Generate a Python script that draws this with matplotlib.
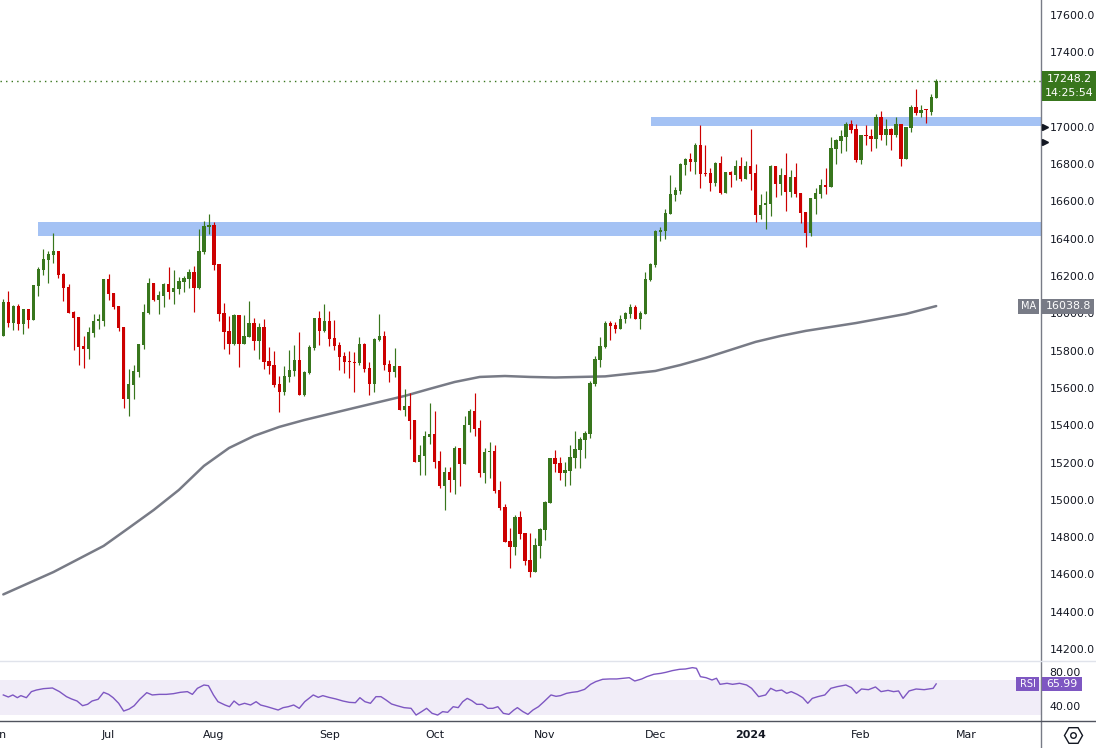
import numpy as np
import pandas as pd
import matplotlib
matplotlib.use('Agg')
import matplotlib.pyplot as plt
from matplotlib.patches import Rectangle
from matplotlib.lines import Line2D
from matplotlib.transforms import IdentityTransform, blended_transform_factory

# daily candles, 2 Jun 2023 .. 22 Feb 2024
opens = [15881, 16059, 15950, 16041, 15945, 16024, 15966, 16149, 16234, 16288,
         16315, 16335, 16211, 16142, 16008, 15981, 15825, 15811, 15897, 15961,
         15961, 16184, 16109, 16040, 15927, 15543, 15618, 15688, 15832, 16004,
         16163, 16072, 16095, 16158, 16117, 16133, 16170, 16186, 16222, 16138,
         16331, 16463, 16474, 16265, 16002, 15906, 15838, 15991, 15838, 15875,
         15949, 15854, 15927, 15745, 15723, 15622, 15580, 15661, 15693, 15750,
         15564, 15681, 15816, 15975, 15907, 15959, 15868, 15831, 15772, 15745,
         15739, 15734, 15836, 15707, 15623, 15857, 15879, 15729, 15686, 15718,
         15484, 15504, 15428, 15205, 15237, 15337, 15353, 15209, 15076, 15150,
         15109, 15278, 15194, 15402, 15475, 15386, 15146, 15257, 15262, 15053,
         14962, 14782, 14749, 14910, 14823, 14678, 14615, 14755, 14841, 14985,
         15225, 15198, 15146, 15157, 15225, 15268, 15321, 15353, 15621, 15752,
         15820, 15948, 15938, 15916, 15967, 15997, 16034, 15967, 15997, 16181,
         16261, 16438, 16444, 16533, 16635, 16656, 16796, 16828, 16812, 16903,
         16753, 16753, 16699, 16806, 16646, 16758, 16742, 16790, 16721, 16790,
         16753, 16529, 16581, 16588, 16790, 16696, 16742, 16648, 16731, 16646,
         16544, 16433, 16615, 16642, 16689, 16680, 16882, 16924, 16946, 17016,
         16989, 16823, 16957, 16951, 16935, 17053, 16957, 16989, 16957, 17016,
         16828, 16994, 17107, 17075, 17092, 17080, 17155]
highs = [16077, 16120, 16045, 16050, 16024, 16024, 16152, 16251, 16345, 16335,
         16431, 16335, 16215, 16156, 16011, 15981, 15879, 15927, 15997, 15998,
         16184, 16211, 16109, 16040, 15927, 15702, 15723, 15836, 16050, 16190,
         16163, 16120, 16161, 16249, 16233, 16195, 16202, 16238, 16254, 16453,
         16495, 16533, 16490, 16265, 16056, 15986, 15997, 15991, 15991, 16067,
         15975, 15949, 15970, 15820, 15798, 15664, 15718, 15804, 15831, 15900,
         15691, 15831, 15975, 16013, 16050, 16013, 15965, 15847, 15793, 15798,
         15793, 15873, 15841, 15739, 15868, 15997, 15906, 15750, 15814, 15718,
         15595, 15573, 15428, 15294, 15370, 15520, 15477, 15262, 15176, 15176,
         15289, 15278, 15450, 15487, 15573, 15428, 15278, 15311, 15294, 15101,
         14978, 14851, 14921, 14942, 14823, 14823, 14798, 14851, 14994, 15225,
         15268, 15230, 15203, 15294, 15370, 15337, 15370, 15638, 15772, 15873,
         15959, 15959, 15954, 15991, 16009, 16051, 16043, 16013, 16222, 16270,
         16447, 16463, 16560, 16742, 16678, 16806, 16833, 16860, 16914, 17010,
         16903, 16780, 16812, 16844, 16758, 16764, 16822, 16839, 16817, 16989,
         16801, 16640, 16656, 16796, 16790, 16780, 16860, 16769, 16807, 16646,
         16544, 16619, 16672, 16721, 16780, 16946, 16935, 16983, 17026, 17037,
         17016, 16957, 17010, 16989, 17069, 17085, 17042, 16994, 17053, 17016,
         17000, 17117, 17203, 17117, 17096, 17176, 17257]
lows = [15881, 15929, 15911, 15911, 15891, 15924, 15966, 16095, 16206, 16163,
        16270, 16192, 16067, 16004, 15806, 15725, 15709, 15757, 15875, 15918,
        15934, 16072, 16024, 15907, 15495, 15452, 15543, 15661, 15811, 15999,
        16067, 15997, 16036, 16079, 16052, 16106, 16117, 16138, 16008, 16133,
        16320, 16426, 16233, 15961, 15811, 15784, 15832, 15714, 15838, 15875,
        15806, 15757, 15704, 15677, 15607, 15473, 15564, 15634, 15666, 15564,
        15559, 15677, 15802, 15831, 15902, 15827, 15806, 15698, 15682, 15655,
        15580, 15723, 15688, 15564, 15580, 15852, 15697, 15634, 15659, 15484,
        15452, 15328, 15205, 15135, 15135, 15302, 15173, 15066, 14948, 15044,
        15034, 15076, 15194, 15366, 15345, 15125, 15093, 15119, 15039, 14948,
        14776, 14632, 14703, 14792, 14653, 14589, 14615, 14690, 14787, 14985,
        15151, 15109, 15076, 15082, 15173, 15173, 15227, 15332, 15611, 15714,
        15814, 15857, 15895, 15916, 15949, 15976, 15967, 15918, 15997, 16176,
        16251, 16390, 16401, 16533, 16603, 16640, 16742, 16764, 16747, 16672,
        16737, 16656, 16683, 16640, 16646, 16678, 16715, 16710, 16721, 16662,
        16492, 16508, 16454, 16524, 16624, 16637, 16551, 16626, 16626, 16487,
        16358, 16417, 16530, 16621, 16642, 16680, 16801, 16860, 16871, 16967,
        16812, 16801, 16903, 16871, 16887, 16930, 16903, 16876, 16946, 16790,
        16828, 16973, 17064, 17053, 17021, 17064, 17155]
closes = [16059, 15950, 16041, 15945, 16024, 15966, 16152, 16238, 16292, 16319,
          16335, 16206, 16138, 16004, 15977, 15822, 15811, 15900, 15959, 15965,
          16184, 16104, 16036, 15924, 15543, 15622, 15691, 15836, 16008, 16163,
          16072, 16099, 16158, 16117, 16136, 16174, 16190, 16222, 16138, 16335,
          16469, 16474, 16260, 15999, 15902, 15838, 15991, 15838, 15879, 15949,
          15854, 15927, 15741, 15720, 15618, 15580, 15664, 15697, 15750, 15564,
          15686, 15820, 15975, 15907, 15959, 15865, 15827, 15768, 15741, 15739,
          15734, 15836, 15704, 15623, 15863, 15879, 15723, 15686, 15718, 15484,
          15504, 15425, 15205, 15241, 15343, 15353, 15205, 15076, 15150, 15109,
          15278, 15194, 15402, 15475, 15382, 15146, 15257, 15262, 15050, 14959,
          14776, 14749, 14910, 14819, 14674, 14615, 14760, 14846, 14989, 15225,
          15194, 15146, 15160, 15230, 15273, 15327, 15359, 15627, 15755, 15825,
          15948, 15932, 15916, 15970, 16002, 16034, 15967, 16002, 16185, 16265,
          16442, 16447, 16538, 16640, 16662, 16801, 16828, 16812, 16903, 16747,
          16746, 16699, 16806, 16646, 16758, 16742, 16790, 16721, 16790, 16747,
          16529, 16581, 16592, 16790, 16694, 16742, 16648, 16731, 16642, 16538,
          16433, 16619, 16646, 16689, 16680, 16887, 16930, 16951, 17016, 16983,
          16823, 16957, 16951, 16935, 17053, 16957, 16989, 16957, 17016, 16828,
          17000, 17107, 17075, 17091, 17089, 17160, 17248.2]

# 200-day moving average, sampled at candle numbers
ma_idx = [0, 10, 20, 25, 30, 35, 40, 45, 50, 55, 60, 70, 80, 85, 90, 95, 100, 105,
          110, 120, 130, 135, 140, 145, 150, 155, 160, 170, 180, 186]
ma_vals = [14493, 14613, 14753, 14849, 14946, 15053, 15182, 15278, 15343, 15391,
           15428, 15493, 15557, 15595, 15632, 15659, 15664, 15659, 15656, 15662,
           15691, 15723, 15761, 15804, 15847, 15879, 15906, 15948, 15997, 16039]

# RSI(14), sampled at candle numbers
rsi_idx = [0.0, 1.0, 1.9, 2.8, 3.5, 4.6, 5.6, 6.6, 8.0, 9.8, 11.2, 12.6, 13.6, 14.7, 15.8,
           16.8, 17.7, 18.9, 20.0, 21.0, 21.9, 23.0, 24.0, 25.1, 26.1, 27.2, 28.6, 29.7,
           31.1, 32.5, 33.9, 35.3, 36.7, 37.7, 38.7, 40.0, 40.9, 41.9, 42.8, 44.2, 45.1,
           46.0, 47.0, 48.1, 49.3, 50.4, 51.3, 52.6, 53.7, 54.8, 55.8, 56.8, 57.9, 59.0,
           60.1, 61.8, 62.8, 63.7, 64.9, 66.3, 67.7, 69.0, 70.2, 71.1, 72.1, 73.2, 74.3,
           75.3, 76.3, 77.4, 78.5, 79.9, 81.3, 82.3, 83.4, 84.4, 85.5, 86.6, 87.6, 88.6,
           89.7, 90.7, 91.6, 92.5, 93.4, 94.4, 95.5, 96.6, 97.6, 98.6, 99.7, 100.8, 101.8,
           102.5, 103.6, 104.6, 105.6, 106.7, 107.8, 109.2, 110.2, 111.1, 112.3, 113.4,
           114.5, 115.9, 117.1, 118.1, 119.5, 120.9, 122.3, 123.7, 124.8, 125.9, 127.3,
           128.3, 129.7, 131.1, 132.1, 133.4, 134.8, 136.0, 137.4, 138.2, 139.0, 140.1,
           141.3, 142.2, 142.9, 144.3, 145.4, 146.8, 148.2, 149.2, 150.6, 152.0, 153.0,
           154.1, 155.2, 156.2, 157.1, 158.3, 159.4, 160.4, 161.3, 162.4, 163.8, 165.0,
           166.3, 168.0, 169.1, 170.1, 171.1, 172.5, 173.9, 175.0, 176.4, 177.5, 178.5,
           179.4, 180.6, 182.0, 183.6, 185.4, 186.0]
rsi_vals = [53.0, 50.6, 53.0, 49.8, 52.2, 49.8, 56.9, 58.8, 60.4, 61.2, 56.9, 51.0, 48.3,
            45.9, 40.4, 42.0, 45.9, 47.9, 56.1, 53.7, 49.8, 43.2, 34.1, 36.5, 40.4, 47.9,
            55.7, 53.0, 53.7, 53.7, 54.5, 56.1, 56.9, 53.7, 60.8, 64.7, 63.9, 53.0, 45.1,
            41.2, 39.2, 45.9, 41.2, 43.2, 41.2, 45.1, 41.2, 39.2, 37.3, 35.3, 38.1, 39.2,
            41.2, 37.3, 45.1, 53.0, 50.2, 52.2, 50.2, 48.3, 45.9, 44.3, 43.9, 49.8, 45.1,
            43.2, 51.0, 51.0, 47.1, 42.4, 40.4, 38.1, 37.3, 29.4, 33.4, 37.3, 31.4, 29.4,
            33.4, 32.6, 39.2, 38.1, 45.1, 49.0, 46.3, 42.0, 42.0, 37.3, 37.3, 39.2, 31.4,
            30.2, 35.3, 38.1, 33.4, 30.2, 35.3, 39.2, 45.1, 53.0, 51.4, 52.2, 54.9, 56.1,
            56.9, 59.6, 65.5, 68.6, 71.4, 71.8, 71.8, 72.6, 73.3, 69.4, 71.8, 74.5, 77.3,
            78.4, 79.6, 81.6, 83.1, 83.5, 85.1, 84.3, 74.5, 73.3, 70.6, 72.6, 65.5, 66.7,
            65.5, 66.7, 64.7, 60.8, 51.0, 53.0, 60.8, 57.7, 58.8, 54.9, 56.9, 53.7, 49.8,
            43.2, 49.0, 51.0, 53.0, 60.8, 62.8, 64.7, 61.6, 54.9, 60.0, 59.2, 62.4, 56.9,
            58.4, 56.9, 57.7, 49.0, 57.7, 60.0, 59.2, 60.8, 65.99]

zone_low = (16415, 16490)
zone_high = (17005, 17053)
price_ticks = list(range(14200, 17601, 200))
rsi_ticks = [40, 80]
last_price = 17248.2
countdown = '14:25:54'
ma_last = 16038.8
rsi_last = 65.99
alert_levels = [17000, 16918]

holidays = pd.to_datetime(['2023-12-25', '2023-12-26', '2024-01-01'])
cal = pd.bdate_range('2023-06-01', '2024-03-01')
cal = cal[~cal.isin(holidays)]

UP = '#38761d'
DOWN = '#cc0000'
TXT = '#131722'
W, H = 1096, 748
FS = 7.9

plt.rcParams['font.family'] = 'DejaVu Sans'
fig = plt.figure(figsize=(W / 100, H / 100), dpi=100)


def box(x0, y0, x1, y1):
    return [x0 / W, 1 - y1 / H, (x1 - x0) / W, (y1 - y0) / H]


ax = fig.add_axes(box(0, 0, 1041, 661))
axr = fig.add_axes(box(0, 661, 1041, 721))
xlim = (-0.66, 206.9)

# zones
ax.add_patch(Rectangle((6.9, zone_low[0]), 300, zone_low[1] - zone_low[0], color='#a4c2f4', lw=0, zorder=1))
ax.add_patch(Rectangle((129.1, zone_high[0]), 300, zone_high[1] - zone_high[0], color='#a4c2f4', lw=0, zorder=1))

# candles
x = np.arange(len(closes))
o = np.array(opens, float)
c = np.array(closes, float)
cols = np.where(c >= o, UP, DOWN)
bottom = np.minimum(o, c)
height = np.maximum(np.abs(c - o), 6)
ax.vlines(x, lows, highs, colors=cols, lw=0.85, zorder=3)
ax.bar(x, height, bottom=bottom, width=0.66, color=cols, lw=0, zorder=4)

# moving average
ax.plot(ma_idx, ma_vals, color='#787b86', lw=1.8, zorder=2, solid_capstyle='round', solid_joinstyle='round')

# last price line
ax.axhline(last_price, color=UP, lw=1, ls=(0, (1, 3)), zorder=2)

ax.set_xlim(*xlim)
ax.set_ylim(14136, 17680)
ax.yaxis.tick_right()
ax.set_yticks(price_ticks)
# the label under the last-price tag is hidden on the original
ax.set_yticklabels(['' if abs(t - last_price) < 100 else f'{t:.1f}' for t in price_ticks])
ax.tick_params(axis='y', length=0, pad=6, labelsize=FS, labelcolor=TXT)
ax.set_xticks([])
for s in ax.spines.values():
    s.set_visible(False)

# RSI pane
axr.axhspan(30, 70, color='#7e57c2', alpha=0.1, lw=0)
axr.plot(rsi_idx, rsi_vals, color='#7e57c2', lw=1)
axr.set_xlim(*xlim)
axr.set_ylim(22.4, 92.9)
axr.yaxis.tick_right()
axr.set_yticks(rsi_ticks)
axr.set_yticklabels([f'{t:.2f}' for t in rsi_ticks])
axr.tick_params(axis='y', length=0, pad=6, labelsize=FS, labelcolor=TXT)
axr.set_xticks([])
for s in axr.spines.values():
    s.set_visible(False)

# month labels
tr = blended_transform_factory(axr.transData, fig.transFigure)
for i, d in enumerate(cal):
    if i == 0 or d.month != cal[i - 1].month:
        lab = str(d.year) if d.month == 1 else d.strftime('%b')
        axr.text(i - 1, 1 - 735 / H, lab, transform=tr, ha='center', va='center',
                 fontsize=FS, color=TXT, fontweight='bold' if d.month == 1 else 'normal',
                 clip_on=False)

# frame lines
I = IdentityTransform()
fig.add_artist(Line2D([1041, 1041], [0, H], color='#787b86', lw=1, transform=I))
fig.add_artist(Line2D([0, W], [H - 661, H - 661], color='#e0e3eb', lw=1, transform=I))
fig.add_artist(Line2D([0, W], [H - 721, H - 721], color='#50535e', lw=1, transform=I))


def ypix(axis, v):
    return axis.transData.transform((0, v))[1]


def tag(yc, x0, x1, h, color, text, fs=FS):
    fig.add_artist(Rectangle((x0, yc - h / 2), x1 - x0, h, color=color, lw=0, transform=I, zorder=5))
    fig.text((x0 + x1) / 2, yc, text, transform=I, ha='center', va='center',
             color='white', fontsize=fs, zorder=6)


# last price tag
yl = ypix(ax, last_price)
fig.add_artist(Rectangle((1042, yl - 20), W - 1042, 30, color=UP, lw=0, transform=I, zorder=5))
fig.text(1069, yl + 2, f'{last_price:.1f}', transform=I, ha='center', va='center', color='white', fontsize=FS, zorder=6)
fig.text(1069, yl - 12, countdown, transform=I, ha='center', va='center', color='white', fontsize=FS, zorder=6)

# MA tag
ym = ypix(ax, ma_last)
tag(ym, 1042, 1094, 15, '#787b86', f'{ma_last:.1f}')
tag(ym, 1018, 1039, 15, '#787b86', 'MA', fs=7)

# RSI tag
yr = ypix(axr, rsi_last)
tag(yr, 1042, 1082, 14, '#7e57c2', f'{rsi_last:.2f}')
tag(yr, 1016, 1039, 14, '#7e57c2', 'RSI', fs=7)

# alert markers
for lv in alert_levels:
    fig.add_artist(Line2D([1044.5], [ypix(ax, lv)], marker='>', ms=5, color='#131722', lw=0, transform=I, zorder=6))

# eye icon
fig.add_artist(Line2D([1073], [H - 735], marker='H', ms=13, mfc='none', mec=TXT, mew=1, lw=0, transform=I))
fig.add_artist(Line2D([1073], [H - 735], marker='o', ms=4, mfc='none', mec=TXT, mew=1, lw=0, transform=I))

fig.savefig('out.png', dpi=100)
